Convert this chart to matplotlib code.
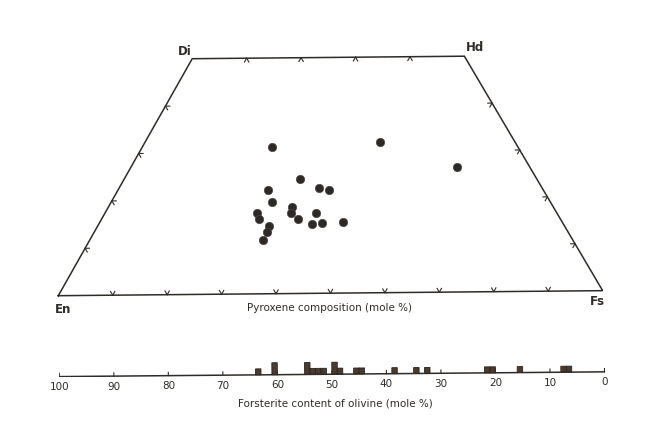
import numpy as np
import matplotlib.pyplot as plt
from matplotlib import transforms

# pyroxene compositions (mole %): Wo and Fs, En = 100 - Wo - Fs
wo = [31.2, 32.0, 26.6, 24.3, 22.1, 22.3, 21.9, 19.5, 18.3, 17.0,
      17.0, 17.1, 15.9, 15.9, 14.7, 14.9, 15.0, 14.3, 13.2, 11.5]
fs = [23.9, 43.3, 60.1, 32.5, 27.7, 37.0, 38.9, 29.6, 34.0, 34.3,
      39.0, 28.1, 29.1, 36.2, 39.3, 41.1, 45.0, 31.6, 31.8, 32.0]

# olivine: lower edge of 1 mole % Fo bins and number of samples
fo_bins = [63, 60, 54, 53, 52, 51, 49, 48, 45, 44, 38, 34, 32, 21, 20, 15, 7, 6]
fo_counts = [1, 2, 2, 1, 1, 1, 2, 1, 1, 1, 1, 1, 1, 1, 1, 1, 1, 1]
fo_ticks = [100, 90, 80, 70, 60, 50, 40, 30, 20, 10, 0]

corner_wo = [0, 0, 50, 50]    # En, Fs, Hd, Di
corner_fs = [0, 100, 50, 0]

ink = '#2f2b28'


def to_xy(w, f):
    w = np.asarray(w, dtype=float)
    f = np.asarray(f, dtype=float)
    return f + w / 2, w * np.sqrt(3) / 2


fig = plt.figure(figsize=(6.55, 4.31), dpi=100)
fig.patch.set_facecolor('white')

# ==========================================
# Pyroxene quadrilateral
# ==========================================
ax = fig.add_axes([0, 0, 1, 1])
ax.set_xlim(-10.71, 109.61)
ax.set_ylim(-24.67, 54.50)
ax.axis('off')

# the scanned page sits slightly tilted
rot = transforms.Affine2D().rotate_deg(0.53) + ax.transData

qx, qy = to_xy(corner_wo + corner_wo[:1], corner_fs + corner_fs[:1])
ax.plot(qx, qy, color=ink, lw=1.1, transform=rot, solid_joinstyle='miter')


def chevron(w, f, dirs, size=0.8):
    x0, y0 = to_xy(w, f)
    for ang in dirs:
        a = np.deg2rad(ang)
        ax.plot([x0, x0 + size * np.cos(a)], [y0, y0 + size * np.sin(a)],
                color=ink, lw=0.8, transform=rot)


for v in range(10, 100, 10):
    chevron(0, v, [60, 120])          # En - Fs
for v in range(10, 50, 10):
    chevron(50, v, [240, 300])        # Di - Hd
    chevron(v, 0, [0, 300])           # En - Di
    chevron(v, 100 - v, [180, 240])   # Fs - Hd

px, py = to_xy(wo, fs)
ax.scatter(px, py, s=36, color='#2c2926', edgecolors='#4a4440',
           linewidths=0.5, transform=rot, zorder=3)

label_kw = dict(fontsize=8.5, fontweight='bold', color=ink,
                ha='center', va='center', family='DejaVu Sans')
ax.text(0.9, -2.3, 'En', **label_kw)
ax.text(99.0, -0.9, 'Fs', **label_kw)
ax.text(76.5, 45.8, 'Hd', **label_kw)
ax.text(23.3, 45.0, 'Di', **label_kw)
ax.text(49.8, -2.1, 'Pyroxene composition (mole %)', fontsize=7.5,
        color=ink, ha='center', va='center')

# ==========================================
# Olivine scale with histogram
# ==========================================
ax2 = fig.add_axes([59.3 / 655, 53.4 / 431, 545.2 / 655, 24 / 431])
ax2.set_xlim(100, 0)
ax2.set_ylim(0, 4)
ax2.axis('off')
rot2 = ax2.transData + transforms.Affine2D().rotate_deg_around(59.3, 53.4, 0.5)

ax2.bar(fo_bins, fo_counts, width=1, align='edge', color='#4a3b31',
        edgecolor='#2a221d', linewidth=0.6, transform=rot2)
ax2.plot([100, 0], [0, 0], color=ink, lw=1.1, transform=rot2)
for t in fo_ticks:
    ax2.plot([t, t], [0, 0.55], color=ink, lw=0.8, transform=rot2)
    ax2.text(t, -1.6, str(t), fontsize=7.5, color=ink, ha='center',
             va='center', transform=rot2)

fig.text(335 / 655, 1 - 404 / 431, 'Forsterite content of olivine (mole %)',
         fontsize=7.5, color=ink, ha='center', va='center')

fig.savefig('out.png', dpi=100, facecolor='white')
